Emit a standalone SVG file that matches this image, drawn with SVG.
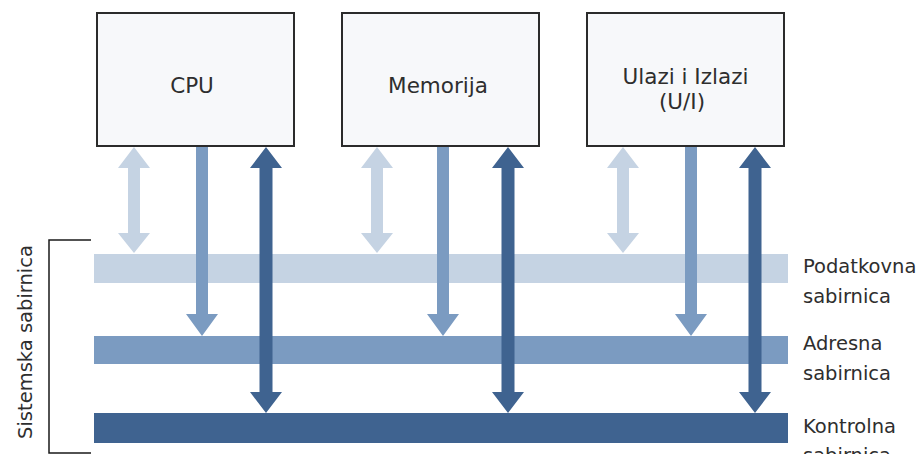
<svg xmlns="http://www.w3.org/2000/svg" width="919" height="454" viewBox="0 0 919 454">
  <style>
    .box { fill: #f7f8fa; stroke: #2b2b2b; stroke-width: 2; }
    .lbl { font-family: "DejaVu Sans", Verdana, sans-serif; font-size: 21.5px; fill: #2e2e2e; text-anchor: middle; }
    .side { font-family: "DejaVu Sans", Verdana, sans-serif; font-size: 19.5px; fill: #2e2e2e; }
    .data { fill: #c5d3e3; }
    .addr { fill: #7b9bc1; }
    .ctrl { fill: #3f6390; }
    .bracket { fill: none; stroke: #1a1a1a; stroke-width: 1.5; }
  </style>
  <defs>
    <!-- double-headed arrow between box bottom (y=147) and data bus (y=253) -->
    <path id="dataArrow" d="M0,147 L16,168 L6,168 L6,233 L16,233 L0,253 L-16,233 L-6,233 L-6,168 L-16,168 Z"/>
    <!-- one-way arrow from box bottom down to address bus top (y=336) -->
    <path id="addrArrow" d="M-6,146 L6,146 L6,314 L16,314 L0,336 L-16,314 L-6,314 Z"/>
    <!-- double-headed arrow from box bottom down to control bus top (y=413) -->
    <path id="ctrlArrow" d="M0,147 L16,168 L6.5,168 L6.5,392 L16,392 L0,413 L-16,392 L-6.5,392 L-6.5,168 L-16,168 Z"/>
  </defs>
  <rect width="919" height="454" fill="#ffffff"/>

  <!-- buses -->
  <g id="buses">
    <rect id="bus-data" class="data" x="94" y="254" width="694" height="29"/>
    <rect id="bus-addr" class="addr" x="94" y="336" width="694" height="28"/>
    <rect id="bus-ctrl" class="ctrl" x="94" y="413" width="694" height="30"/>
  </g>

  <!-- connectors -->
  <g id="connectors">
    <use href="#dataArrow" class="data" x="134"/>
    <use href="#addrArrow" class="addr" x="202"/>
    <use href="#ctrlArrow" class="ctrl" x="266"/>

    <use href="#dataArrow" class="data" x="377"/>
    <use href="#addrArrow" class="addr" x="443"/>
    <use href="#ctrlArrow" class="ctrl" x="508"/>

    <use href="#dataArrow" class="data" x="623"/>
    <use href="#addrArrow" class="addr" x="691"/>
    <use href="#ctrlArrow" class="ctrl" x="755"/>
  </g>

  <g id="cpu">
    <rect class="box" x="97" y="13" width="197" height="133"/>
    <text class="lbl" x="192" y="93">CPU</text>
  </g>
  <g id="memorija">
    <rect class="box" x="342" y="13" width="197" height="133"/>
    <text class="lbl" x="438" y="93">Memorija</text>
  </g>
  <g id="ui">
    <rect class="box" x="587" y="13" width="197" height="133"/>
    <text class="lbl" x="685.5" y="84">Ulazi i Izlazi</text>
    <text class="lbl" x="682" y="109">(U/I)</text>
  </g>

  <!-- bus labels -->
  <g id="bus-labels">
    <text class="side" x="803" y="273">Podatkovna</text>
    <text class="side" x="803" y="303">sabirnica</text>
    <text class="side" x="803" y="350">Adresna</text>
    <text class="side" x="803" y="380">sabirnica</text>
    <text class="side" x="803" y="433">Kontrolna</text>
    <text class="side" x="803" y="462">sabirnica</text>
  </g>

  <!-- system bus bracket -->
  <g id="system-bus">
    <path class="bracket" d="M91,240 H49 V453 H91"/>
    <text class="side" transform="translate(32,342) rotate(-90)" text-anchor="middle">Sistemska sabirnica</text>
  </g>
</svg>
